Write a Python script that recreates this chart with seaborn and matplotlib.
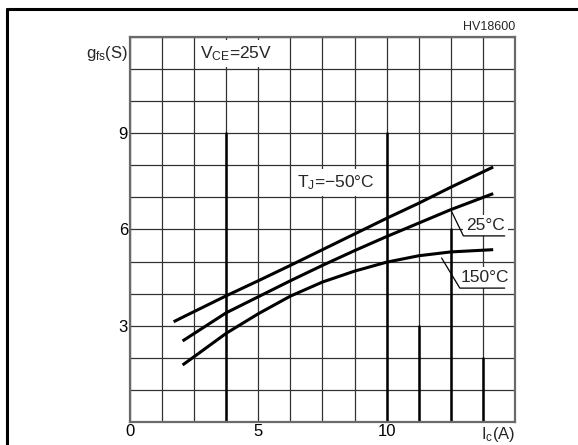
import numpy as np
import pandas as pd
import matplotlib
matplotlib.use("Agg")
import matplotlib.pyplot as plt
import seaborn as sns
from matplotlib.lines import Line2D

# ---- data ----
temps = ["-50°C", "25°C", "150°C"]
x_m50 = [1.7, 2.1, 3.75, 5, 6.25, 7.5, 8.75, 10, 11.25, 12.5, 14.15]
y_m50 = [3.12, 3.28, 3.93, 4.4, 4.88, 5.37, 5.86, 6.35, 6.82, 7.32, 7.95]
x_25 = [2.05, 3.75, 5, 6.25, 7.5, 8.75, 10, 11.25, 12.5, 14.15]
y_25 = [2.52, 3.4, 3.9, 4.4, 4.88, 5.34, 5.78, 6.2, 6.62, 7.12]
x_150 = [2.05, 2.5, 3.75, 5, 6.25, 7.5, 8.75, 10, 11.25, 12.5, 14.15]
y_150 = [1.77, 2.03, 2.76, 3.37, 3.92, 4.36, 4.7, 4.98, 5.18, 5.3, 5.37]

x_tick_labels = {0: "0", 5: "5", 10: "10"}
y_tick_labels = {3: "3", 6: "6", 9: "9"}

df = pd.concat([
    pd.DataFrame({"Ic": x_m50, "gfs": y_m50, "Tj": temps[0]}),
    pd.DataFrame({"Ic": x_25, "gfs": y_25, "Tj": temps[1]}),
    pd.DataFrame({"Ic": x_150, "gfs": y_150, "Tj": temps[2]}),
], ignore_index=True)

sns.set_style("white")
plt.rcParams["font.family"] = ["Liberation Sans", "DejaVu Sans"]
plt.rcParams["mathtext.fontset"] = "custom"
plt.rcParams["mathtext.rm"] = "Liberation Sans"

fig = plt.figure(figsize=(5.78, 4.45), dpi=100)
ax = fig.add_axes([0.2249, 0.0524, 0.6661, 0.8638])

sns.lineplot(data=df, x="Ic", y="gfs", hue="Tj", palette=["black"] * 3,
             legend=False, sort=False, estimator=None, lw=2.2, ax=ax, zorder=5)
for ln in ax.lines:
    ln.set_solid_joinstyle("round")
    ln.set_solid_capstyle("butt")

ax.set_xlim(0, 15)
ax.set_ylim(0, 12)
xt = np.arange(0, 15.01, 1.25)
yt = np.arange(0, 12.01, 1)
ax.set_xticks(xt)
ax.set_yticks(yt)
ax.set_xticklabels([x_tick_labels.get(float(v), "") if float(v) in x_tick_labels else "" for v in xt])
ax.set_yticklabels([y_tick_labels.get(int(v), "") for v in yt])
ax.tick_params(length=0, labelsize=12, pad=1.5, colors="black")
ax.grid(True, color="#333333", lw=0.9)
ax.set_axisbelow(True)
for s in ax.spines.values():
    s.set_color("#6a6a6a")
    s.set_linewidth(1.6)
ax.set_xlabel("")
ax.set_ylabel("")

# darker scan-like segments on some grid lines (styling)
for xv, top in [(3.75, 9), (10, 9), (11.25, 3), (12.5, 6), (13.75, 2)]:
    ax.plot([xv, xv], [0, top], color="black", lw=1.8, zorder=2)

# axis captions
ax.text(1.0, -0.008, "I$\\mathregular{_c}$(A)", transform=ax.transAxes,
        ha="right", va="top", fontsize=12)
ax.text(-0.006, 11.5, "g$\\mathregular{_{fs}}$(S)", transform=ax.get_yaxis_transform(),
        ha="right", va="center", fontsize=12)
ax.text(1.0, 1.01, "HV18600", transform=ax.transAxes, ha="right", va="bottom",
        fontsize=9)

box = dict(facecolor="white", edgecolor="none", pad=3)
ax.text(2.72, 11.5, "V$\\mathregular{_{CE}}$=25V", ha="left", va="center",
        fontsize=12.5, bbox=box, zorder=3)
ax.text(6.5, 7.46, "T$\\mathregular{_J}$=\u221250°C", ha="left", va="center",
        fontsize=12.5, bbox=box, zorder=3)

# labels with leaders
ax.text(13.1, 6.12, "25°C", ha="left", va="center", fontsize=12.5,
        bbox=dict(facecolor="white", edgecolor="none", pad=2), zorder=3)
ax.plot([12.53, 12.99, 14.6], [6.56, 5.80, 5.80], color="black", lw=0.9, zorder=4)
ax.text(12.9, 4.5, "150°C", ha="left", va="center", fontsize=12.5,
        bbox=dict(facecolor="white", edgecolor="none", pad=2), zorder=3)
ax.plot([12.14, 12.85, 14.6], [5.11, 4.17, 4.17], color="black", lw=0.9, zorder=4)

# outer frame
fig.add_artist(Line2D([0.0121, 0.0121], [0.0, 0.98], color="black", lw=2.2,
                      transform=fig.transFigure))
fig.add_artist(Line2D([0.0121, 1.0], [0.98, 0.98], color="black", lw=2.2,
                      transform=fig.transFigure))

fig.savefig("out.png", dpi=100)
